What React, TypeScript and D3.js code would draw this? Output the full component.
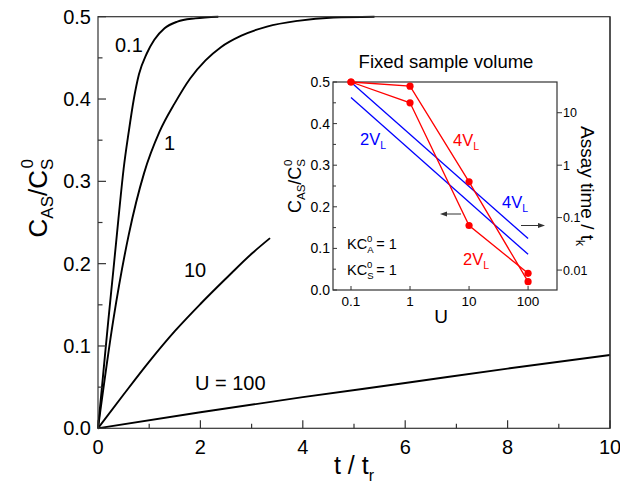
import React from 'react';
import * as d3 from 'd3';

// ---------- data ----------
const curveU01: [number, number][] = [[0,0],[0.1,0.065],[0.2,0.13],[0.3,0.192],[0.4,0.255],[0.5,0.315],[0.6,0.36],[0.7,0.4],[0.8,0.43],[0.95,0.455],[1.1,0.472],[1.3,0.486],[1.55,0.494],[1.9,0.498],[2.35,0.5]];
const curveU1: [number, number][] = [[0,0],[0.3,0.132],[0.6,0.235],[0.9,0.31],[1.2,0.36],[1.5,0.395],[1.8,0.425],[2.1,0.447],[2.4,0.463],[2.8,0.477],[3.3,0.488],[3.9,0.495],[4.6,0.499],[5.4,0.5]];
const curveU10: [number, number][] = [[0,0],[0.5,0.041],[1.0,0.081],[1.5,0.118],[2.0,0.151],[2.5,0.182],[3.0,0.212],[3.36,0.231]];
const curveU100: [number, number][] = [[0,0],[2,0.0195],[4,0.0378],[6,0.055],[8,0.0725],[10,0.089]];

const mainXTicks = [0, 2, 4, 6, 8, 10];
const mainXMinor = [1, 3, 5, 7, 9];
const mainYTicks = [0, 0.1, 0.2, 0.3, 0.4, 0.5];
const mainYMinor = [0.05, 0.15, 0.25, 0.35, 0.45];

const insetU = [0.1, 1, 10, 100];
const red4VL = [0.5, 0.49, 0.26, 0.02];
const red2VL = [0.5, 0.45, 0.155, 0.04];
const blue4VL: [number, number][] = [[0.1, 38], [100, 0.04]];
const blue2VL: [number, number][] = [[0.1, 19.5], [100, 0.02]];
const insetYTicks = [0, 0.1, 0.2, 0.3, 0.4, 0.5];
const insetYMinor = [0.05, 0.15, 0.25, 0.35, 0.45];
const insetRTicks = [10, 1, 0.1, 0.01];
const insetRLabels = ['10', '1', '0.1', '0.01'];

const FONT = '"Liberation Sans", Arial, Helvetica, sans-serif';

export default function App() {
  const x = d3.scaleLinear().domain([0, 10]).range([98, 610]);
  const y = d3.scaleLinear().domain([0, 0.5]).range([428.3, 16.7]);

  const xi = d3.scaleLog().domain([Math.pow(10, -1.305), Math.pow(10, 2.49)]).range([333, 557]);
  const yi = d3.scaleLinear().domain([0, 0.5]).range([290, 82]);
  const yr = d3.scaleLog().domain([Math.pow(10, -2.38), Math.pow(10, 1.586)]).range([290, 82]);

  const mainLine = d3.line<[number, number]>().x(d => x(d[0])).y(d => y(d[1])).curve(d3.curveMonotoneX);
  const redLine = d3.line<number>().x((_, i) => xi(insetU[i])).y(d => yi(d));
  const blueLine = d3.line<[number, number]>().x(d => xi(d[0])).y(d => yr(d[1]));

  const axisColor = '#333';

  return (
    <svg width={620} height={484} style={{ position: 'absolute', left: 0, top: 0, background: '#fff' }} fontFamily={FONT}>
      <rect x={0} y={0} width={620} height={484} fill="#fff" />
      {/* main curves */}
      {[curveU01, curveU1, curveU10, curveU100].map((c, i) => (
        <path key={i} d={mainLine(c) || ''} fill="none" stroke="#000" strokeWidth={1.9} />
      ))}
      {/* main frame */}
      <rect x={x(0)} y={y(0.5)} width={x(10) - x(0)} height={y(0) - y(0.5)} fill="none" stroke={axisColor} strokeWidth={1.2} />
      {mainXTicks.map(t => (
        <g key={'xt' + t}>
          <line x1={x(t)} x2={x(t)} y1={y(0)} y2={y(0) - 8} stroke={axisColor} strokeWidth={1.2} />
          <text x={x(t)} y={454} fontSize={20} textAnchor="middle" fill="#000">{t}</text>
        </g>
      ))}
      {mainXMinor.map(t => (
        <line key={'xm' + t} x1={x(t)} x2={x(t)} y1={y(0)} y2={y(0) - 4.5} stroke={axisColor} strokeWidth={1.2} />
      ))}
      {mainYTicks.map(t => (
        <g key={'yt' + t}>
          <line x1={x(0)} x2={x(0) + 8} y1={y(t)} y2={y(t)} stroke={axisColor} strokeWidth={1.2} />
          <text x={91} y={y(t) + 7} fontSize={20} textAnchor="end" fill="#000">{t.toFixed(1)}</text>
        </g>
      ))}
      {mainYMinor.map(t => (
        <line key={'ym' + t} x1={x(0)} x2={x(0) + 4.5} y1={y(t)} y2={y(t)} stroke={axisColor} strokeWidth={1.2} />
      ))}
      {/* main titles */}
      <text x={354} y={474} fontSize={25} textAnchor="middle" fill="#000">t / t<tspan fontSize={16} dy={7}>r</tspan></text>
      <text transform="translate(47,198) rotate(-90)" fontSize={26} textAnchor="middle" fill="#000">
        C<tspan fontSize={17} dy={6}>AS</tspan><tspan dy={-6}>/C</tspan><tspan fontSize={17} dy={6}>S</tspan><tspan fontSize={17} dx={-10} dy={-20}>0</tspan>
      </text>
      {/* curve labels */}
      <text x={115} y={52} fontSize={20} fill="#000">0.1</text>
      <text x={164} y={150} fontSize={20} fill="#000">1</text>
      <text x={184} y={277} fontSize={20} fill="#000">10</text>
      <text x={195} y={390} fontSize={20} fill="#000">U = 100</text>

      {/* inset */}
      <text x={446} y={68} fontSize={18.5} textAnchor="middle" fill="#000">Fixed sample volume</text>
      <rect x={333} y={82} width={224} height={208} fill="#fff" stroke={axisColor} strokeWidth={1.2} />
      {insetYTicks.map(t => (
        <g key={'iy' + t}>
          <line x1={333} x2={337} y1={yi(t)} y2={yi(t)} stroke={axisColor} />
          <text x={330} y={yi(t) + 5} fontSize={14} textAnchor="end" fill="#000">{t.toFixed(1)}</text>
        </g>
      ))}
      {insetYMinor.map(t => (
        <line key={'iym' + t} x1={333} x2={336} y1={yi(t)} y2={yi(t)} stroke={axisColor} />
      ))}
      {insetU.map(u => (
        <g key={'ix' + u}>
          <line x1={xi(u)} x2={xi(u)} y1={290} y2={286} stroke={axisColor} />
          <text x={xi(u)} y={306} fontSize={13.5} textAnchor="middle" fill="#000">{String(u)}</text>
        </g>
      ))}
      {insetRTicks.map((t, i) => (
        <g key={'ir' + t}>
          <line x1={557} x2={562} y1={yr(t)} y2={yr(t)} stroke={axisColor} />
          <text x={563} y={yr(t) + 4.5} fontSize={12.5} textAnchor="start" fill="#000">{insetRLabels[i]}</text>
        </g>
      ))}
      <path d={blueLine(blue4VL) || ''} fill="none" stroke="#0000ff" strokeWidth={1.3} />
      <path d={blueLine(blue2VL) || ''} fill="none" stroke="#0000ff" strokeWidth={1.3} />
      <path d={redLine(red4VL) || ''} fill="none" stroke="#ff0000" strokeWidth={1.3} />
      <path d={redLine(red2VL) || ''} fill="none" stroke="#ff0000" strokeWidth={1.3} />
      {[red4VL, red2VL].map((s, k) => s.map((v, i) => (
        <circle key={k + '-' + i} cx={xi(insetU[i])} cy={yi(v)} r={3.6} fill="#ff0000" />
      )))}
      {/* inset labels */}
      <text x={360} y={145} fontSize={16.5} fill="#0000ff">2V<tspan fontSize={10.5} dy={4}>L</tspan></text>
      <text x={453} y={146} fontSize={16.5} fill="#ff0000">4V<tspan fontSize={10.5} dy={4}>L</tspan></text>
      <text x={502} y={208} fontSize={16.5} fill="#0000ff">4V<tspan fontSize={10.5} dy={4}>L</tspan></text>
      <text x={463} y={265} fontSize={16.5} fill="#ff0000">2V<tspan fontSize={10.5} dy={4}>L</tspan></text>
      <text x={347} y={249} fontSize={14.5} fill="#000">KC<tspan fontSize={9.5} dy={4}>A</tspan><tspan fontSize={9.5} dx={-6.5} dy={-11}>0</tspan><tspan dy={7}> = 1</tspan></text>
      <text x={347} y={275} fontSize={14.5} fill="#000">KC<tspan fontSize={9.5} dy={4}>S</tspan><tspan fontSize={9.5} dx={-6.5} dy={-11}>0</tspan><tspan dy={7}> = 1</tspan></text>
      {/* arrows */}
      <line x1={444} x2={461} y1={214} y2={214} stroke="#333" strokeWidth={1} />
      <path d="M440,214 L447,211.5 L447,216.5 Z" fill="#333" />
      <line x1={521} x2={541} y1={225.5} y2={225.5} stroke="#333" strokeWidth={1} />
      <path d="M545,225.5 L538,223 L538,228 Z" fill="#333" />
      {/* inset titles */}
      <text x={441} y={323} fontSize={19} textAnchor="middle" fill="#000">U</text>
      <text transform="translate(301,186) rotate(-90)" fontSize={18} textAnchor="middle" fill="#000">
        C<tspan fontSize={11.5} dy={4}>AS</tspan><tspan dy={-4}>/C</tspan><tspan fontSize={11.5} dy={4}>S</tspan><tspan fontSize={11.5} dx={-7} dy={-13}>0</tspan>
      </text>
      <text transform="translate(581,186) rotate(90)" fontSize={19} textAnchor="middle" fill="#000">
        Assay time / t<tspan fontSize={12} dy={5}>k</tspan>
      </text>
      <line x1={x(10)} x2={x(10)} y1={y(0.5)} y2={y(0)} stroke={axisColor} strokeWidth={1.2} />
    </svg>
  );
}
